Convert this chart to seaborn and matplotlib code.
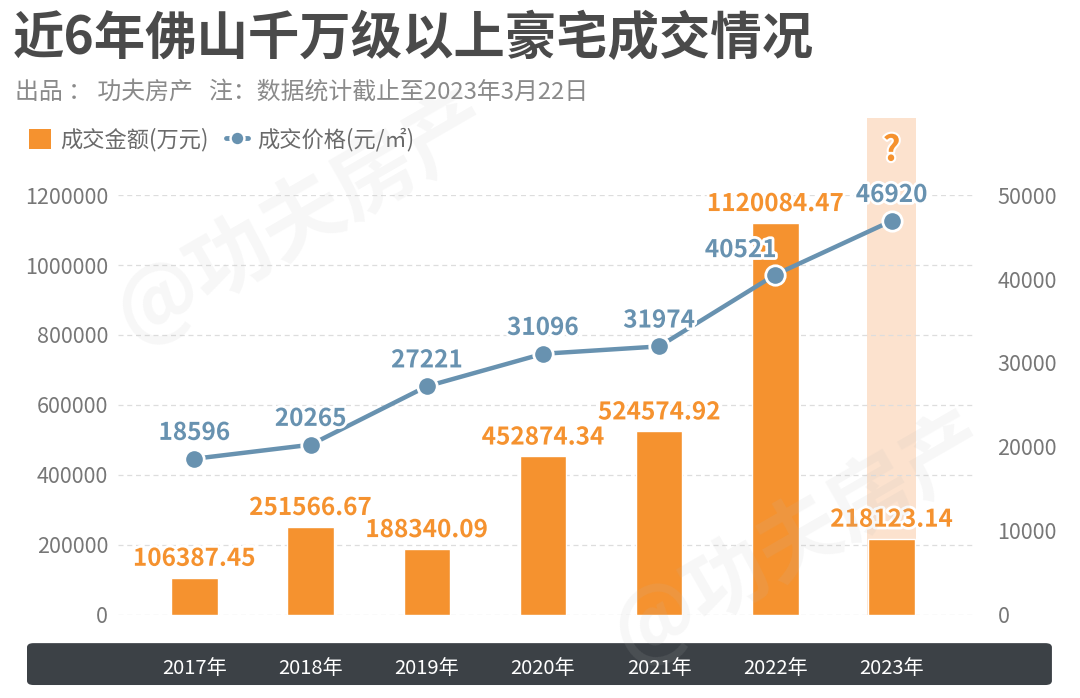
import numpy as np
import matplotlib
matplotlib.use('Agg')
import matplotlib.pyplot as plt
import seaborn as sns
from matplotlib.patches import FancyBboxPatch, Patch
from matplotlib.lines import Line2D
import matplotlib.patheffects as pe
import matplotlib.transforms as mtransforms

# data
years = ['2017年', '2018年', '2019年', '2020年', '2021年', '2022年', '2023年']
amount = [106387.45, 251566.67, 188340.09, 452874.34, 524574.92, 1120084.47, 218123.14]
price = [18596, 20265, 27221, 31096, 31974, 40521, 46920]
amount_labels = ['106387.45', '251566.67', '188340.09', '452874.34', '524574.92', '1120084.47', '218123.14']
left_ticks = [0, 200000, 400000, 600000, 800000, 1000000, 1200000]
right_ticks = [0, 10000, 20000, 30000, 40000, 50000]

ORANGE = '#F5922F'
BLUE = '#6892B0'
PEACH = '#FCE2CE'
GRAY = '#777777'

sns.set_style('white')
plt.rcParams['font.family'] = ['Noto Sans CJK SC', 'DejaVu Sans']

fig = plt.figure(figsize=(10.8, 6.98), dpi=100)
ax = fig.add_axes([0.109, 0.119, 0.794, 0.6016])
ax.patch.set_visible(False)

# highlight column for 2023
ax.axvspan(5.79, 6.21, ymin=0, ymax=1.183, color=PEACH, clip_on=False, zorder=0, lw=0)
ax.text(6, 1.107, '?', transform=mtransforms.blended_transform_factory(ax.transData, ax.transAxes),
        ha='center', va='center', fontsize=25, fontweight='black', color=ORANGE,
        path_effects=[pe.withStroke(linewidth=3, foreground='white')])

sns.barplot(x=years, y=amount, color=ORANGE, width=0.4, ax=ax, zorder=2, saturation=1)
ax.set_xlim(-0.66, 6.72)
ax.set_ylim(0, 1200000)
ax.set_yticks(left_ticks)
ax.set_yticklabels([str(t) for t in left_ticks])
ax.grid(axis='y', linestyle=(0, (4, 3)), color='#dddddd', lw=0.9)
ax.set_axisbelow(True)
for s in ax.spines.values():
    s.set_visible(False)
ax.tick_params(axis='y', length=0, labelsize=15.5, labelcolor=GRAY, pad=7)
ax.tick_params(axis='x', length=0, labelsize=14.5, labelcolor='white', pad=31)
for t in ax.get_yticklabels():
    t.set_fontweight('light')
ax.set_xlabel('')
ax.set_ylabel('')

for i, (v, lab) in enumerate(zip(amount, amount_labels)):
    ax.annotate(lab, (i, v), xytext=(0, 5), textcoords='offset points', ha='center', va='bottom',
                fontsize=17.5, fontweight='black', color=ORANGE, zorder=5,
                path_effects=[pe.withStroke(linewidth=4, foreground='white')])

ax2 = ax.twinx()
sns.lineplot(x=np.arange(len(years)), y=price, ax=ax2, color=BLUE, lw=3.2, marker='o',
             markersize=14, markeredgecolor='white', markeredgewidth=2, zorder=4)
ax2.set_ylim(0, 50000)
ax2.set_yticks(right_ticks)
ax2.set_yticklabels([str(t) for t in right_ticks])
for s in ax2.spines.values():
    s.set_visible(False)
ax2.tick_params(axis='y', length=0, labelsize=15.5, labelcolor=GRAY, pad=16)
for t in ax2.get_yticklabels():
    t.set_fontweight('light')
ax2.set_ylabel('')
# 2022 label sits up-left of its point to clear the bar label
offsets = [(0, 10), (0, 10), (0, 10), (0, 10), (0, 10), (-25, 9), (0, 10)]
for i, p in enumerate(price):
    ax2.annotate(str(p), (i, p), xytext=offsets[i], textcoords='offset points', ha='center',
                 va='bottom', fontsize=17.5, fontweight='black', color=BLUE, zorder=6,
                 path_effects=[pe.withStroke(linewidth=4, foreground='white')])

# bottom dark band
band = FancyBboxPatch((0.025, 0.0186), 0.949, 0.06, boxstyle='round,pad=0,rounding_size=0.006',
                      transform=fig.transFigure, facecolor='#3C4146', edgecolor='none', zorder=-1)
fig.patches.append(band)

# title and subtitle
fig.text(0.012, 0.945, '近6年佛山千万级以上豪宅成交情况', fontsize=37, fontweight='bold',
         color='#4A4A4A', va='center', ha='left')
fig.text(0.014, 0.868, '出品 ： 功夫房产   注：数据统计截止至2023年3月22日', fontsize=17.2,
         color='#8A8A8A', va='center', ha='left')

# legend
handles = [Patch(facecolor=ORANGE, edgecolor='none'),
           Line2D([], [], color=BLUE, lw=3.5, marker='o', markersize=10,
                  markeredgecolor='white', markeredgewidth=1.8)]
fig.legend(handles, ['成交金额(万元)', '成交价格(元/㎡)'], loc='center left',
           bbox_to_anchor=(0.008, 0.8), ncol=2, frameon=False, fontsize=16,
           labelcolor='#6A6A6A', handlelength=1.0, handletextpad=0.4, columnspacing=0.8,
           handleheight=1.0)

# watermarks
for x, y in [(0.28, 0.69), (0.74, 0.23)]:
    fig.text(x, y, '@功夫房产', fontsize=60, fontweight='bold', color='#bbbbbb', alpha=0.12,
             rotation=30, ha='center', va='center', zorder=10)

fig.savefig('out.png', dpi=100)
